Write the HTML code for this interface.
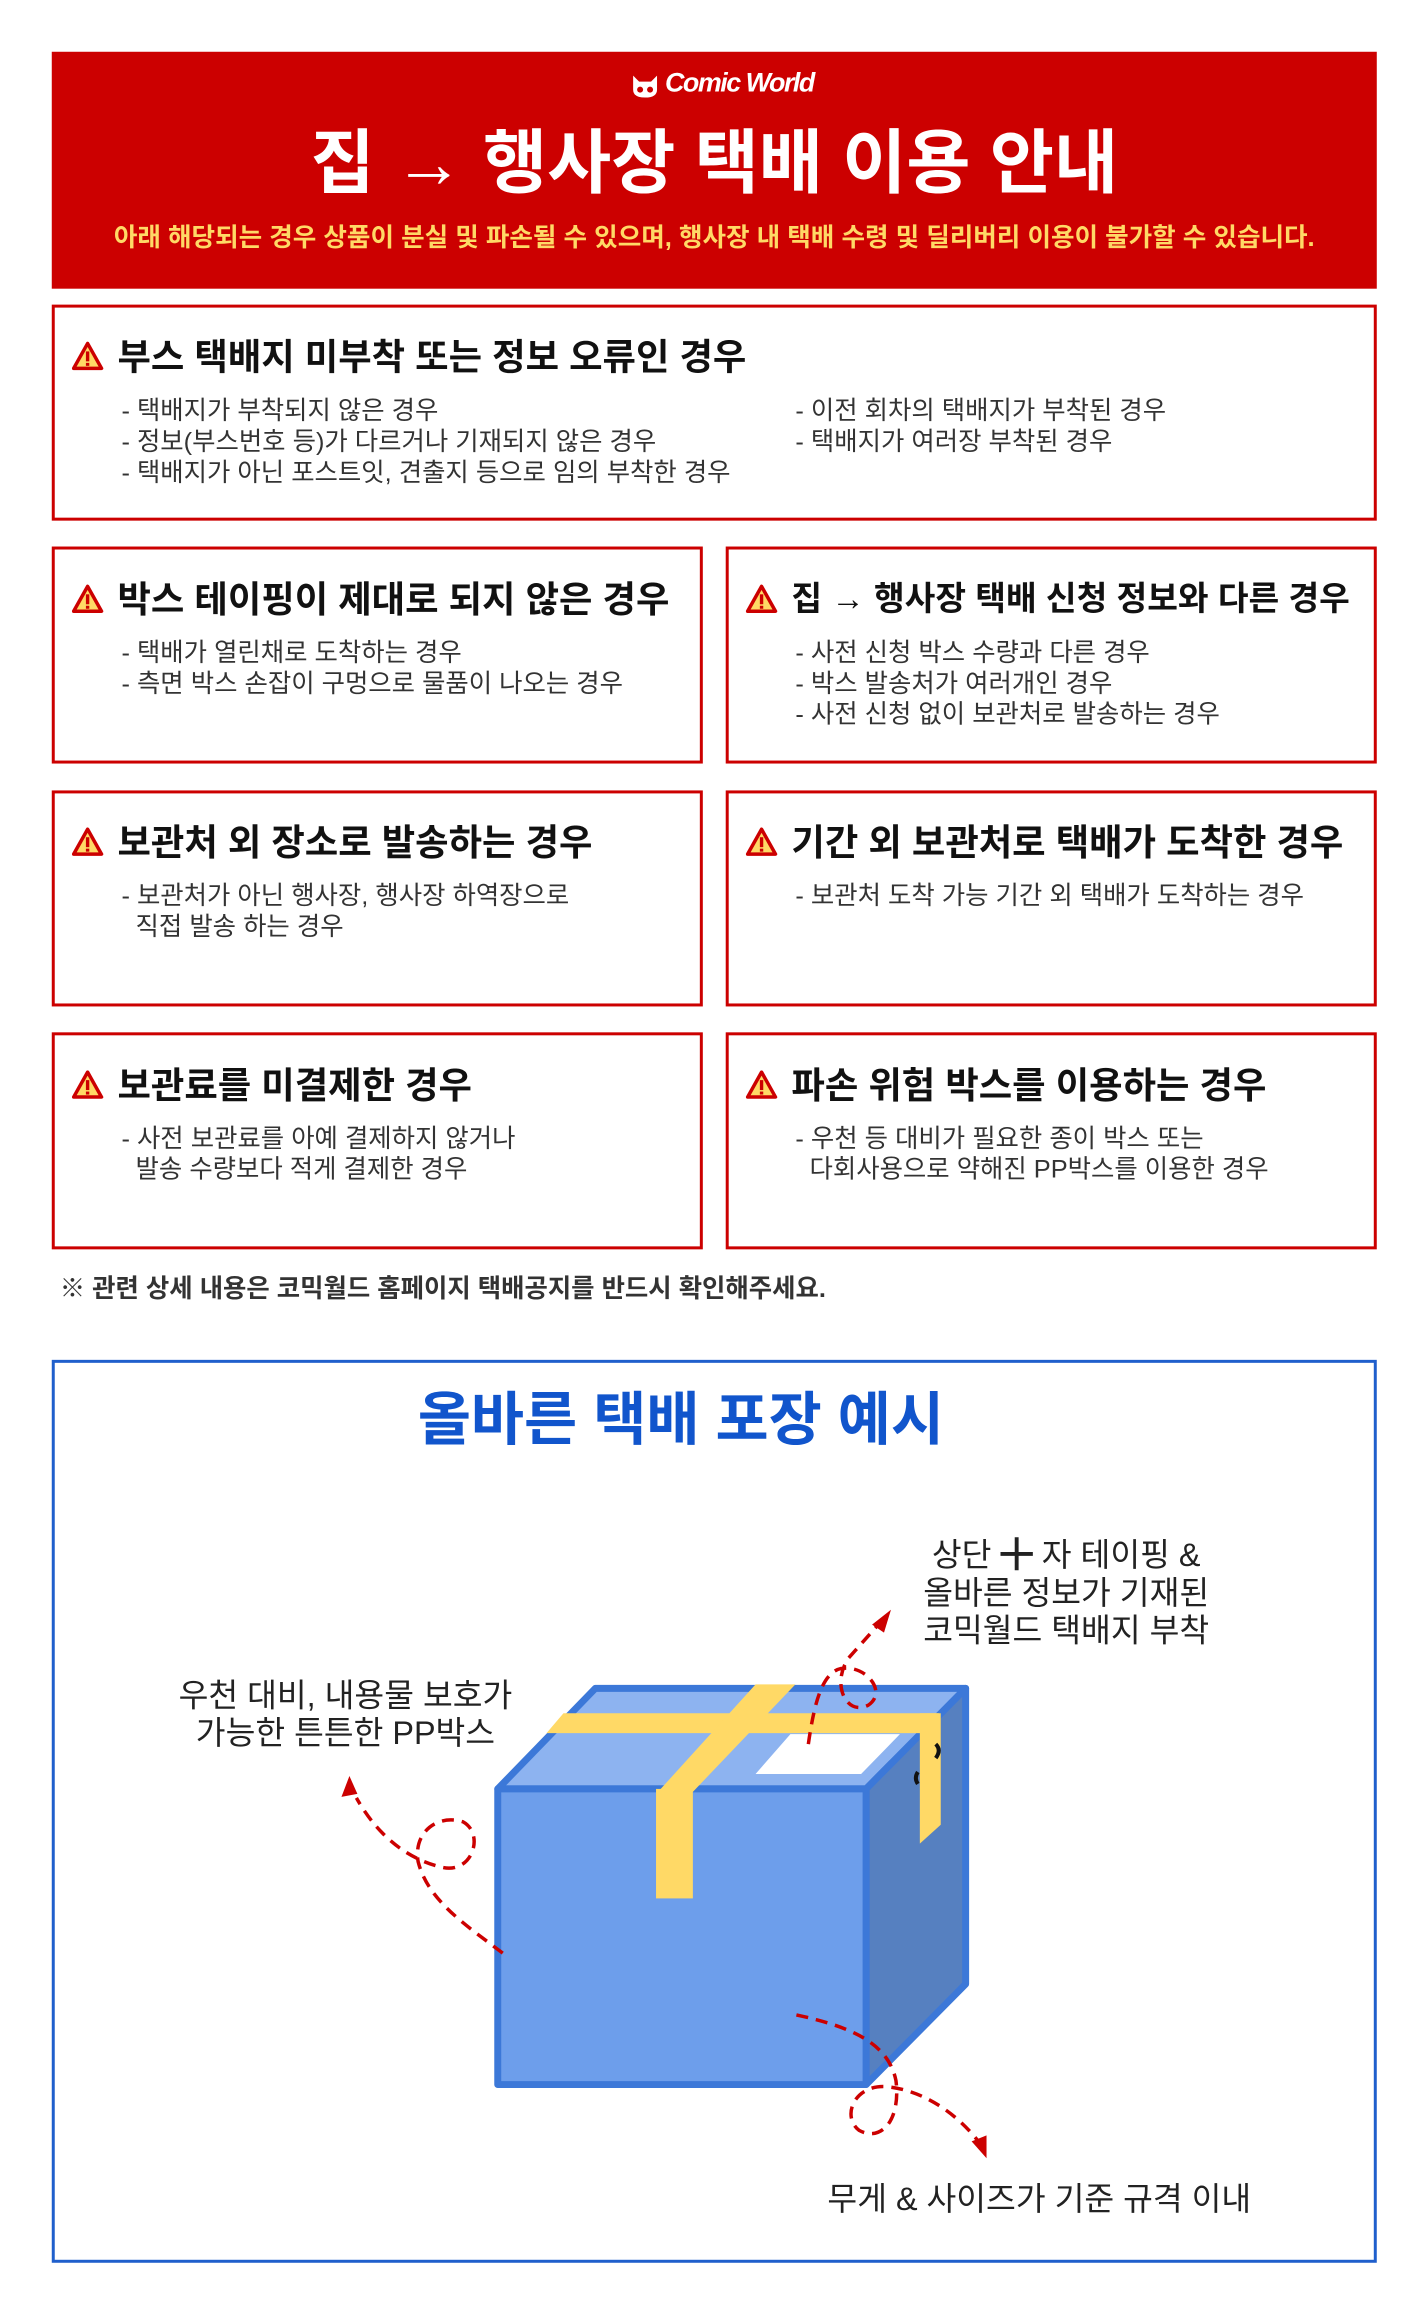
<!DOCTYPE html>
<html><head><meta charset="utf-8">
<style>
*{margin:0;padding:0;box-sizing:border-box}
body{width:1428px;height:2320px;background:#fff;position:relative;overflow:hidden;font-family:"Liberation Sans","Noto Sans CJK KR",sans-serif;color:#222}
#wrap{position:absolute;left:0;top:0;width:1428px;height:2320px;transform:scale(0.9955);transform-origin:0 0}
.t{position:absolute;white-space:nowrap;line-height:1}
.box{position:absolute;border:3px solid #cc0000;background:#fff}
.h{font-size:36.5px;font-weight:700;color:#111}
.i{font-size:25.5px;color:#333;line-height:31px}
.ic{position:absolute;width:32px;height:30px}
</style></head><body><div id="wrap">

<div style="position:absolute;left:52px;top:52px;width:1331px;height:238px;background:#cc0000"></div>
<svg style="position:absolute;left:633px;top:70px" width="30" height="30" viewBox="0 0 30 30">
<path d="M3 6 L9 12 L21 12 L27 6 L27 20 Q27 28 15 28 Q3 28 3 20 Z" fill="#fff"/>
<circle cx="10" cy="20" r="3" fill="#cc0000"/><circle cx="20" cy="20" r="3" fill="#cc0000"/>
</svg>
<div class="t" style="left:668px;top:70px;font-size:27px;font-weight:700;color:#fff;font-style:italic;letter-spacing:-1.5px">Comic World</div>
<div class="t" style="left:0;width:1435px;text-align:center;top:129px;font-size:70px;font-weight:700;color:#fff">집 → 행사장 택배 이용 안내</div>
<div class="t" style="left:0;width:1435px;text-align:center;top:227px;font-size:25.7px;font-weight:700;color:#ffd966">아래 해당되는 경우 상품이 분실 및 파손될 수 있으며, 행사장 내 택배 수령 및 딜리버리 이용이 불가할 수 있습니다.</div>

<div class="box" style="left:52px;top:306px;width:1331px;height:217px"></div>
<div class="box" style="left:52px;top:549px;width:654px;height:218px"></div>
<div class="box" style="left:729px;top:549px;width:654px;height:218px"></div>
<div class="box" style="left:52px;top:794px;width:654px;height:217px"></div>
<div class="box" style="left:729px;top:794px;width:654px;height:217px"></div>
<div class="box" style="left:52px;top:1037px;width:654px;height:218px"></div>
<div class="box" style="left:729px;top:1037px;width:654px;height:218px"></div>

<svg width="0" height="0" style="position:absolute"><defs>
<symbol id="w" viewBox="0 0 32 30"><path d="M16 2 L30 27 L2 27 Z" fill="#ffd966" stroke="#cc0000" stroke-width="3.5" stroke-linejoin="round"/><rect x="14.3" y="10" width="3.4" height="10" fill="#cc0000"/><rect x="14.3" y="21.5" width="3.4" height="3" fill="#cc0000"/></symbol>
</defs></svg>

<svg class="ic" style="left:72px;top:343px"><use href="#w"/></svg>
<div class="t h" style="left:118px;top:341px">부스 택배지 미부착 또는 정보 오류인 경우</div>
<div class="t i" style="left:122px;top:398px">- 택배지가 부착되지 않은 경우<br>- 정보(부스번호 등)가 다르거나 기재되지 않은 경우<br>- 택배지가 아닌 포스트잇, 견출지 등으로 임의 부착한 경우</div>
<div class="t i" style="left:799px;top:398px">- 이전 회차의 택배지가 부착된 경우<br>- 택배지가 여러장 부착된 경우</div>

<svg class="ic" style="left:72px;top:587px"><use href="#w"/></svg>
<div class="t h" style="left:118px;top:585px">박스 테이핑이 제대로 되지 않은 경우</div>
<div class="t i" style="left:122px;top:641px">- 택배가 열린채로 도착하는 경우<br>- 측면 박스 손잡이 구멍으로 물품이 나오는 경우</div>

<svg class="ic" style="left:749px;top:587px"><use href="#w"/></svg>
<div class="t h" style="left:795px;top:586px;font-size:33.5px">집 → 행사장 택배 신청 정보와 다른 경우</div>
<div class="t i" style="left:799px;top:641px">- 사전 신청 박스 수량과 다른 경우<br>- 박스 발송처가 여러개인 경우<br>- 사전 신청 없이 보관처로 발송하는 경우</div>

<svg class="ic" style="left:72px;top:831px"><use href="#w"/></svg>
<div class="t h" style="left:118px;top:829px">보관처 외 장소로 발송하는 경우</div>
<div class="t i" style="left:122px;top:885px">- 보관처가 아닌 행사장, 행사장 하역장으로<br>&nbsp;&nbsp;직접 발송 하는 경우</div>

<svg class="ic" style="left:749px;top:831px"><use href="#w"/></svg>
<div class="t h" style="left:795px;top:829px">기간 외 보관처로 택배가 도착한 경우</div>
<div class="t i" style="left:799px;top:885px">- 보관처 도착 가능 기간 외 택배가 도착하는 경우</div>

<svg class="ic" style="left:72px;top:1075px"><use href="#w"/></svg>
<div class="t h" style="left:118px;top:1073px">보관료를 미결제한 경우</div>
<div class="t i" style="left:122px;top:1129px">- 사전 보관료를 아예 결제하지 않거나<br>&nbsp;&nbsp;발송 수량보다 적게 결제한 경우</div>

<svg class="ic" style="left:749px;top:1075px"><use href="#w"/></svg>
<div class="t h" style="left:795px;top:1073px">파손 위험 박스를 이용하는 경우</div>
<div class="t i" style="left:799px;top:1129px">- 우천 등 대비가 필요한 종이 박스 또는<br>&nbsp;&nbsp;다회사용으로 약해진 PP박스를 이용한 경우</div>

<div class="t" style="left:60px;top:1283px;font-size:25.5px;font-weight:700;color:#333">※ 관련 상세 내용은 코믹월드 홈페이지 택배공지를 반드시 확인해주세요.</div>

<div style="position:absolute;left:52px;top:1366px;width:1331px;height:907px;border:3px solid #1f5fcc"></div>
<div class="t" style="left:0;width:1368px;text-align:center;top:1398px;font-size:58px;font-weight:700;color:#1155cc">올바른 택배 포장 예시</div>

<svg style="position:absolute;left:0;top:0" width="1428" height="2320">
<g stroke="#3c78d8" stroke-width="7" stroke-linejoin="round">
<polygon points="500,1797 598,1696 970,1696 870,1797" fill="#8db3f0"/>
<polygon points="870,1797 970,1696 970,1993 870,2094" fill="#5680c0"/>
<rect x="500" y="1797" width="370" height="297" fill="#6d9eeb"/>
</g>
<polygon points="794,1742 904,1742 865,1782 759,1782" fill="#fff"/>
<polygon points="566,1721 943,1721 943,1741 549,1741" fill="#ffd966"/>
<polygon points="924,1721 945,1721 945,1833 924,1852" fill="#ffd966"/>
<polygon points="759,1692 799,1692 696,1800 661,1800" fill="#ffd966"/>
<rect x="659" y="1797" width="37" height="110" fill="#ffd966"/>
<path d="M940 1752 q6 6 0 14 M922 1780 q-4 6 0 12" stroke="#111" stroke-width="4" fill="none"/>
<g stroke="#cc0000" stroke-width="3.5" fill="none" stroke-dasharray="12 8">
<path d="M812,1752 C818,1710 826,1680 845,1676 C870,1672 892,1700 872,1713 C850,1724 835,1692 852,1666 L884,1630"/>
<path d="M505,1962 C470,1935 430,1910 420,1870 C415,1840 440,1822 465,1830 C487,1842 475,1882 445,1876 C410,1868 380,1845 358,1806"/>
<path d="M800,2024 C850,2035 892,2050 900,2090 C905,2130 885,2152 863,2140 C845,2126 858,2094 890,2096 C930,2100 962,2125 982,2150"/>
</g>
<polygon points="895,1617 876,1632 888,1640" fill="#cc0000"/>
<polygon points="351,1784 343,1805 359,1802" fill="#cc0000"/>
<polygon points="991,2168 976,2151 991,2145" fill="#cc0000"/>
</svg>

<div class="t" style="left:861px;width:420px;text-align:center;top:1543px;font-size:32.5px;line-height:38px;color:#222">상단 <b>╋</b> 자 테이핑 &amp;<br>올바른 정보가 기재된<br>코믹월드 택배지 부착</div>
<div class="t" style="left:137px;width:420px;text-align:center;top:1684px;font-size:32.5px;line-height:38px;color:#222">우천 대비, 내용물 보호가<br>가능한 튼튼한 PP박스</div>
<div class="t" style="left:774px;width:540px;text-align:center;top:2190px;font-size:32.5px;line-height:38px;color:#222">무게 &amp; 사이즈가 기준 규격 이내</div>

</div></body></html>
